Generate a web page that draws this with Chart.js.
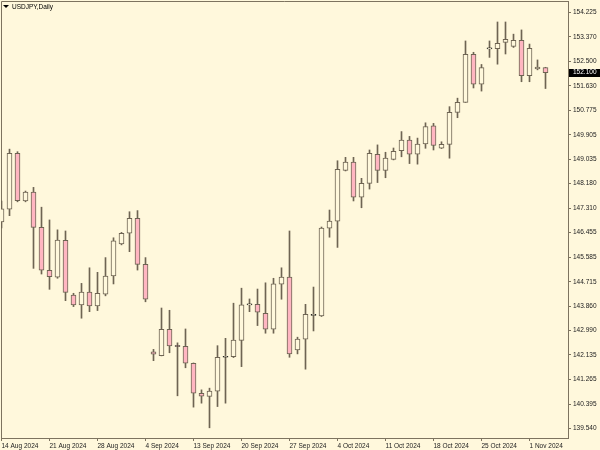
<!DOCTYPE html>
<html>
<head>
<meta charset="utf-8">
<script src="https://cdn.jsdelivr.net/npm/chart.js@4.4.1/dist/chart.umd.min.js"></script>
<style>
  html, body { margin: 0; padding: 0; background: #fff8dc; }
  #wrap { position: relative; width: 600px; height: 450px; }
  #caption {
    position: absolute; left: 3px; top: 3px;
    font: 6.5px 'Liberation Sans', sans-serif; color: #000; line-height: 7px;
  }
  #caption .tri {
    display: inline-block; width: 0; height: 0; margin-right: 3px; vertical-align: 1px;
    border-left: 3px solid transparent; border-right: 3px solid transparent; border-top: 3px solid #000;
  }
</style>
</head>
<body>
<div id="wrap">
  <canvas id="chart" width="600" height="450"></canvas>
  <div id="caption"><span class="tri"></span>USDJPY,Daily</div>
</div>
<script>
// Daily bars (broker feed with Sunday bars, 5-6 Sep missing)
const dates = [
  '14 Aug 2024', '15 Aug 2024', '16 Aug 2024', '18 Aug 2024', '19 Aug 2024', '20 Aug 2024',
  '21 Aug 2024', '22 Aug 2024', '23 Aug 2024', '25 Aug 2024', '26 Aug 2024', '27 Aug 2024',
  '28 Aug 2024', '29 Aug 2024', '30 Aug 2024', '1 Sep 2024', '2 Sep 2024', '3 Sep 2024',
  '4 Sep 2024', '8 Sep 2024', '9 Sep 2024', '10 Sep 2024', '11 Sep 2024', '12 Sep 2024',
  '13 Sep 2024', '15 Sep 2024', '16 Sep 2024', '17 Sep 2024', '18 Sep 2024', '19 Sep 2024',
  '20 Sep 2024', '22 Sep 2024', '23 Sep 2024', '24 Sep 2024', '25 Sep 2024', '26 Sep 2024',
  '27 Sep 2024', '29 Sep 2024', '30 Sep 2024', '1 Oct 2024', '2 Oct 2024', '3 Oct 2024',
  '4 Oct 2024', '6 Oct 2024', '7 Oct 2024', '8 Oct 2024', '9 Oct 2024', '10 Oct 2024',
  '11 Oct 2024', '13 Oct 2024', '14 Oct 2024', '15 Oct 2024', '16 Oct 2024', '17 Oct 2024',
  '18 Oct 2024', '20 Oct 2024', '21 Oct 2024', '22 Oct 2024', '23 Oct 2024', '24 Oct 2024',
  '25 Oct 2024', '27 Oct 2024', '28 Oct 2024', '29 Oct 2024', '30 Oct 2024', '31 Oct 2024',
  '1 Nov 2024', '3 Nov 2024', '4 Nov 2024'
];

const opens = [
  146.83, 147.28, 149.25, 147.57, 147.88, 146.64, 145.12, 144.88, 146.18, 144.25,
  143.90, 144.35, 143.86, 144.28, 144.92, 146.05, 146.43, 146.96, 145.33, 142.24,
  142.11, 143.04, 142.44, 142.44, 141.84, 140.78, 140.67, 140.85, 142.05, 142.07,
  142.65, 143.90, 143.92, 143.60, 143.04, 144.63, 144.88, 142.31, 142.69, 143.53,
  143.51, 146.61, 146.86, 148.65, 148.94, 147.70, 148.19, 149.22, 148.65, 149.04,
  149.35, 149.72, 149.22, 149.58, 150.22, 149.43, 149.57, 150.70, 151.05, 152.75,
  151.69, 152.94, 152.95, 153.17, 153.03, 153.24, 151.99, 152.23, 152.28
];
const highs = [
  147.57, 149.40, 149.31, 147.92, 148.05, 147.35, 146.90, 146.55, 146.51, 144.31,
  144.66, 145.21, 145.05, 145.57, 146.27, 146.46, 147.19, 147.23, 145.57, 142.33,
  143.79, 143.71, 142.56, 143.05, 141.85, 140.90, 140.96, 142.46, 142.72, 143.96,
  144.49, 144.11, 144.46, 144.68, 144.84, 145.21, 146.51, 142.76, 143.92, 144.53,
  146.65, 147.25, 148.99, 149.11, 149.11, 148.37, 149.37, 149.55, 149.29, 149.44,
  150.02, 149.85, 149.79, 150.33, 150.31, 149.66, 150.90, 151.20, 153.22, 152.82,
  152.39, 153.22, 153.89, 153.89, 153.46, 153.61, 153.11, 152.55, 152.29
];
const lows = [
  146.62, 147.05, 147.54, 147.54, 145.19, 144.99, 144.45, 144.84, 144.05, 143.84,
  143.43, 143.66, 143.70, 144.22, 144.64, 146.02, 145.78, 145.13, 144.01, 141.93,
  142.10, 142.21, 140.69, 141.68, 140.29, 140.43, 139.56, 140.31, 140.43, 142.04,
  141.72, 143.66, 143.17, 142.90, 142.90, 144.10, 142.05, 142.17, 141.63, 142.98,
  143.49, 146.29, 145.93, 148.63, 147.57, 147.33, 147.99, 148.22, 148.39, 149.02,
  149.13, 148.89, 148.87, 149.43, 149.37, 149.42, 149.08, 150.51, 151.05, 151.56,
  151.45, 152.64, 152.40, 152.76, 152.99, 151.78, 151.78, 152.20, 151.54
];
const closes = [
  147.29, 149.25, 147.58, 147.88, 146.64, 145.13, 144.90, 146.19, 144.34, 143.90,
  144.35, 143.86, 144.31, 144.92, 146.16, 146.43, 146.96, 145.33, 144.10, 142.16,
  143.04, 142.45, 142.43, 141.84, 140.78, 140.68, 140.86, 142.05, 142.08, 142.66,
  143.90, 143.91, 143.64, 143.04, 144.64, 144.88, 142.17, 142.69, 143.57, 143.54,
  146.61, 146.86, 148.69, 148.94, 147.70, 148.19, 149.25, 148.65, 149.08, 149.32,
  149.72, 149.22, 149.58, 150.20, 149.53, 149.57, 150.70, 151.05, 152.75, 151.69,
  152.28, 152.95, 153.14, 153.28, 153.24, 151.99, 152.96, 152.30, 152.10
];

// Price ticks on the right scale and bars that get a date label
const priceTicks = [
  154.225, 153.370, 152.500, 151.630, 150.775, 149.905, 149.035, 148.180, 147.310,
  146.455, 145.585, 144.715, 143.860, 142.990, 142.135, 141.265, 140.395, 139.540
];
const dateTickBars = [0, 6, 12, 18, 24, 30, 36, 42, 48, 54, 60, 66];

const BG = '#fff8dc';
const LINE = '#6e6453';
const AXIS = '#7d735f';
const BEAR = '#ffb6c1';
const FONT = { family: "'Liberation Sans', sans-serif", size: 6.5 };

const bodies = opens.map((o, i) => ({ x: i, y: [Math.min(o, closes[i]), Math.max(o, closes[i])] }));
const wicks = lows.map((l, i) => ({ x: i, y: [l, highs[i]] }));
const isDoji = opens.map((o, i) => Math.abs(closes[i] - o) < 0.035);

// no extra room for overflowing tick labels, the frame is fixed
function noPadding(scale) {
  scale.paddingTop = 0;
  scale.paddingBottom = 0;
  scale.paddingLeft = 0;
  scale.paddingRight = 0;
}

// background, top/left frame and the last price box
const framePlugin = {
  id: 'frame',
  beforeDraw(chart) {
    const { ctx, chartArea: a } = chart;
    ctx.save();
    ctx.fillStyle = BG;
    ctx.fillRect(0, 0, chart.width, chart.height);
    ctx.strokeStyle = AXIS;
    ctx.lineWidth = 1;
    ctx.beginPath();
    ctx.moveTo(a.left + 0.5, a.bottom);
    ctx.lineTo(a.left + 0.5, a.top + 0.5);
    ctx.lineTo(a.right, a.top + 0.5);
    ctx.stroke();
    ctx.restore();
  },
  afterDraw(chart) {
    const { ctx, chartArea: a } = chart;
    const last = closes[closes.length - 1];
    const y = chart.scales.y.getPixelForValue(last);
    ctx.save();
    ctx.fillStyle = '#000';
    ctx.fillRect(a.right + 1, Math.round(y) - 4, chart.width - a.right - 1, 8);
    ctx.fillStyle = '#fff';
    ctx.font = `${FONT.size}px ${FONT.family}`;
    ctx.textBaseline = 'middle';
    ctx.fillText(last.toFixed(3), a.right + 5, y);
    ctx.restore();
  }
};

new Chart(document.getElementById('chart'), {
  type: 'bar',
  data: {
    datasets: [
      {
        label: 'body',
        data: bodies,
        backgroundColor: opens.map((o, i) => closes[i] < o ? BEAR : BG),
        borderColor: isDoji.map(d => d ? '#000' : LINE),
        borderWidth: 1,
        borderSkipped: false,
        barThickness: 5,
        minBarLength: 1,
        grouped: false,
        order: 0
      },
      {
        label: 'wick',
        data: wicks,
        backgroundColor: LINE,
        borderWidth: 0,
        barThickness: 1,
        grouped: false,
        order: 1
      }
    ]
  },
  options: {
    responsive: false,
    animation: false,
    layout: { padding: { top: 1, left: 1, right: 0, bottom: 0 } },
    plugins: { legend: { display: false }, tooltip: { enabled: false } },
    scales: {
      x: {
        type: 'linear',
        offset: false,
        bounds: 'data',
        min: -0.0625,
        max: 70.8125,
        afterBuildTicks: scale => { scale.ticks = dateTickBars.map(v => ({ value: v })); },
        afterFit: scale => { scale.height = 12; noPadding(scale); },
        grid: { drawOnChartArea: false, drawTicks: true, tickLength: 3, tickColor: AXIS, offset: false },
        border: { display: true, color: AXIS },
        ticks: {
          autoSkip: false,
          maxRotation: 0,
          align: 'start',
          padding: 1,
          color: '#222',
          font: FONT,
          callback: v => dates[v]
        }
      },
      y: {
        type: 'linear',
        position: 'right',
        bounds: 'data',
        min: 139.2,
        max: 154.631,
        afterBuildTicks: scale => { scale.ticks = priceTicks.map(v => ({ value: v })); },
        afterFit: scale => { scale.width = 32; noPadding(scale); },
        grid: { drawOnChartArea: false, drawTicks: true, tickLength: 3, tickColor: AXIS },
        border: { display: true, color: AXIS },
        ticks: {
          padding: 2,
          color: '#222',
          font: FONT,
          callback: v => v.toFixed(3)
        }
      }
    }
  },
  plugins: [framePlugin]
});
</script>
</body>
</html>
